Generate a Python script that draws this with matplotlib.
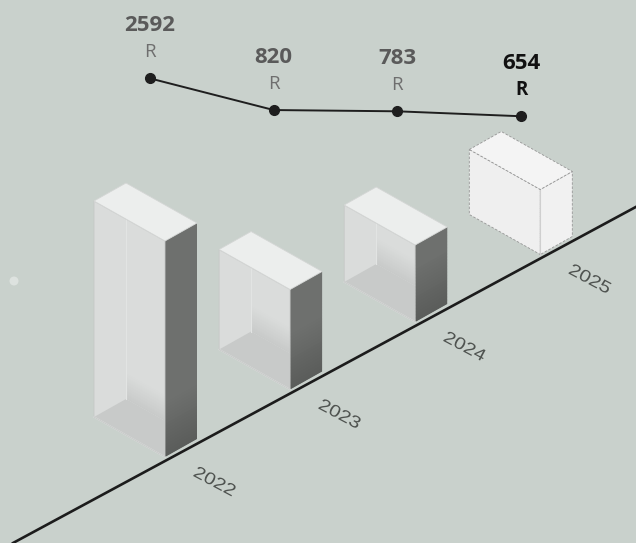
import numpy as np
import matplotlib
matplotlib.use("Agg")
import matplotlib.pyplot as plt
from matplotlib.patches import Polygon, PathPatch, Circle
from matplotlib.collections import PolyCollection
from matplotlib.textpath import TextPath
from matplotlib.font_manager import FontProperties
from matplotlib.transforms import Affine2D
from matplotlib.colors import to_rgba

# data
years = ["2022", "2023", "2024", "2025"]
values = [2592, 820, 783, 654]
unit = "R"
box_heights = [216, 100, 77, 65]      # drawn box heights (px units)
is_forecast = [False, False, False, True]

W, H = 636, 543
BG = "#c9d1cc"

# isometric layout (pixels, y down)
F0 = np.array([165.0, 457.0])        # front-bottom corner of first box
STEP = np.array([125.1, -67.5])      # shift between categories
WV = np.array([-71.0, -40.0])        # front face width vector
DV = np.array([32.0, -18.0])         # depth vector


def strips(ax, origin, e1, e2, c0, c1, length, t0, t1, clip=None, z=2, n=60):
    # vertical colour ramp on a parallelogram, built from thin slices
    a, b = np.array(to_rgba(c0)), np.array(to_rgba(c1))
    polys, cols = [], []
    for k in range(n):
        v0, v1 = k / n, min((k + 1.6) / n, 1.0)
        t = (k + 0.5) / n * length
        w = np.clip((t - t0) / (t1 - t0), 0, 1)
        polys.append([origin + v0 * e2, origin + e1 + v0 * e2,
                      origin + e1 + v1 * e2, origin + v1 * e2])
        cols.append(a * (1 - w) + b * w)
    pc = PolyCollection(polys, facecolors=cols, edgecolors="none", zorder=z)
    ax.add_collection(pc)
    if clip is not None:
        pc.set_clip_path(clip)
    return pc


def draw_box(ax, F, h, ghost=False):
    Fb = F
    Ft = F + np.array([0, -h])
    Lb = F + WV
    Lt = Lb + np.array([0, -h])
    Sb = F + DV
    St = Sb + np.array([0, -h])
    Bb = Lb + DV
    Bt = Lt + DV
    if ghost:
        ls = (0, (3, 2))
        ax.add_patch(Polygon([Lt, Ft, Fb, Lb], closed=True, fc="#efefef", ec="#969696",
                             lw=0.6, ls=ls, zorder=3))
        ax.add_patch(Polygon([Fb, Ft, St, Sb], closed=True, fc="#f1f1f1", ec="#969696",
                             lw=0.6, ls=ls, zorder=3))
        ax.add_patch(Polygon([Lt, Bt, St, Ft], closed=True, fc="#f4f4f4", ec="#969696",
                             lw=0.6, ls=ls, zorder=3))
        ax.plot([Fb[0], Ft[0]], [Fb[1], Ft[1]], color="#cfcfcf", lw=0.8, zorder=4)
        return
    front_c = "#dadcdb"
    floor_c = "#c8cac9"
    front = Polygon([Lt, Ft, Fb, Lb], closed=True, fc=front_c, ec="none", zorder=2)
    ax.add_patch(front)
    # floor of the glass box seen through the front face
    floor = Polygon([Lb, Bb, Sb, Fb], closed=True, fc=floor_c, ec="none", zorder=2.1)
    ax.add_patch(floor)
    floor.set_clip_path(front)
    strips(ax, Bb, -WV, np.array([0, -26.0]), floor_c, front_c, 26, 0, 26,
           clip=front, z=2.2, n=26)
    ax.plot([Bb[0], Bt[0]], [Bb[1], Bt[1]], color="#e2e4e3", lw=0.8, zorder=2.3,
            clip_path=front)
    ax.plot([Lb[0], Fb[0]], [Lb[1], Fb[1]], color="#dfe1e0", lw=1.0, zorder=2.3)
    ax.add_patch(Polygon([Lt, Ft, Fb, Lb], closed=True, fc="none", ec="#c6c8c7",
                         lw=0.6, zorder=2.4))
    # dark side face
    side = Polygon([Fb, Ft, St, Sb], closed=True, fc="#6e706e", ec="none", zorder=2)
    ax.add_patch(side)
    strips(ax, Fb, DV, np.array([0, -h]), "#5a5c5a", "#6e706e", h, 0, 55,
           clip=side, z=2.2, n=max(20, int(h / 3)))
    # top
    ax.add_patch(Polygon([Lt, Bt, St, Ft], closed=True, fc="#eceeed", ec="#d4d6d5",
                         lw=0.6, zorder=2.5))


fig = plt.figure(figsize=(W / 100, H / 100), dpi=100)
fig.patch.set_facecolor(BG)
ax = fig.add_axes([0, 0, 1, 1])
ax.set_facecolor(BG)

# baseline along the category axis
ax.axline((F0[0], F0[1] + 4), slope=STEP[1] / STEP[0], color="#1c1c1c", lw=1.9, zorder=1)

for i, (h, g) in enumerate(zip(box_heights, is_forecast)):
    draw_box(ax, F0 + i * STEP, h, ghost=g)

# year labels lying on the floor
fp = FontProperties(family="Liberation Sans")
for i, y in enumerate(years):
    tp = TextPath((0, 0), y, size=17, prop=fp)
    bb = tp.get_extents()
    c = F0 + i * STEP + np.array([50, 24])
    tr = (Affine2D().translate(-(bb.x0 + bb.x1) / 2, -(bb.y0 + bb.y1) / 2)
          .scale(1.2, -1.0).rotate_deg(28).translate(c[0], c[1]))
    ax.add_patch(PathPatch(tr.transform_path(tp), fc="#4f5350", ec="none", zorder=3))

ax.add_patch(Circle((14, 281), 4.5, fc="#dde2df", ec="none", zorder=1))

ax.set_xlim(0, W)
ax.set_ylim(H, 0)
ax.axis("off")

# trend line on its own (log) scale
ax2 = fig.add_axes([0, 0, 1, 1], facecolor="none")
x = np.arange(len(values))
ax2.plot(x, values, color="#1e1e1e", lw=1.4, marker="o", ms=7, mfc="#1e1e1e", mec="#1e1e1e",
         zorder=5)
ax2.set_yscale("log")
ax2.set_xlim(-1.2126, 3.9288)
ax2.set_ylim(np.exp(-9.04), np.exp(10.712))
for i, v in enumerate(values):
    last = i == len(values) - 1
    col = "#111111" if last else "#5a5a5a"
    ax2.annotate(str(v), (i, v), xytext=(0, 38), textcoords="offset points", ha="center",
                 va="center", fontsize=16, fontweight="bold", color=col, family="Open Sans")
    ax2.annotate(unit, (i, v), xytext=(0, 19), textcoords="offset points", ha="center",
                 va="center", fontsize=13.5, fontweight="bold" if last else "normal",
                 color="#111111" if last else "#6e6e6e", family="Open Sans")
ax2.axis("off")

fig.savefig("out.png", dpi=100, facecolor=BG)
